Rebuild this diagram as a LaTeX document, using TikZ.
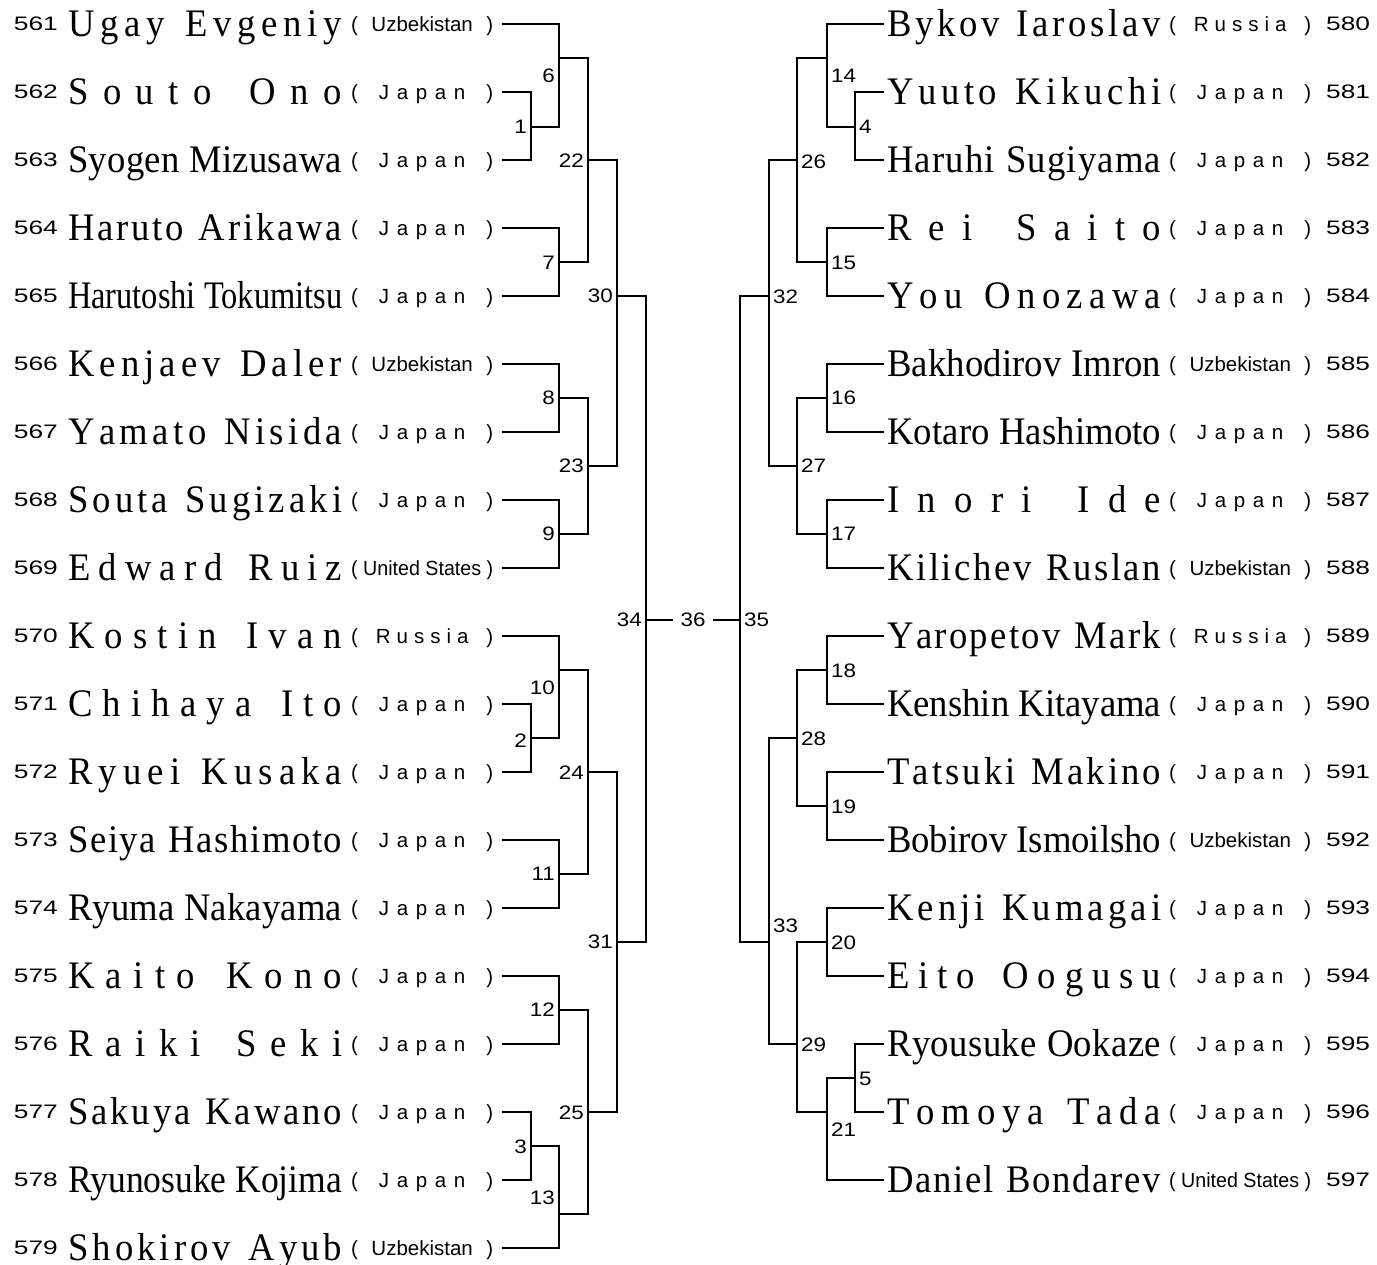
\documentclass[tikz,border=0pt]{standalone}
\usepackage{fontspec}
\usepackage{tikz}
\newfontfamily\namefamily[FakeStretch=0.94]{Liberation Serif}
\newfontfamily\ctyfamily{Liberation Sans}
\newfontfamily\seedfamily[FakeStretch=1.35]{Liberation Sans}
\newfontfamily\lblfamily[FakeStretch=1.15]{Liberation Sans}

% text spread over / squeezed into a box of fixed width
\ExplSyntaxOn
\str_new:N \l__fit_str
\box_new:N \l__fit_box
\bool_new:N \l__fit_first_bool
\int_new:N \l__fit_int
\cs_new_protected:Npn \__fit_make:nnn #1#2#3
 {
  \str_set:Nx \l__fit_str {#3}
  \hbox_set:Nn \l__fit_box { \str_use:N \l__fit_str }
  \int_set:Nn \l__fit_int { \str_count:N \l__fit_str - 1 }
  \dim_compare:nNnTF { \box_wd:N \l__fit_box + #2 * \l__fit_int } > {#1}
   {
    \dim_compare:nNnTF { \box_wd:N \l__fit_box } > {#1}
     {
      \box_resize_to_wd_and_ht:Nnn \l__fit_box {#1} { \box_ht:N \l__fit_box }
      \box_use:N \l__fit_box
     }
     {
      \hbox_to_wd:nn {#1}
       {
        \skip_set:Nn \spaceskip { 0pt plus 1fill }
        \str_use:N \l__fit_str
       }
     }
   }
   {
    \hbox_to_wd:nn {#1}
     {
      \bool_set_true:N \l__fit_first_bool
      \str_map_inline:Nn \l__fit_str
       {
        \bool_if:NTF \l__fit_first_bool
         { \bool_set_false:N \l__fit_first_bool }
         { \hfill }
        ##1
       }
     }
   }
 }
\NewDocumentCommand \fitname { m } { \__fit_make:nnn { 274pt } { 0pt } {#1} }
\NewDocumentCommand \fitcty { m } { \__fit_make:nnn { 142pt } { 4pt } { ( ~ #1 ~ ) } }
\ExplSyntaxOff

\tikzset{
  bracket line/.style={line width=1.8pt, black},
  seed no/.style={inner sep=0pt, font=\seedfamily\fontsize{19.5}{19.5}\selectfont},
  player/.style={inner sep=0pt, anchor=base west, font=\namefamily\fontsize{39}{39}\selectfont},
  country/.style={inner sep=0pt, anchor=base west, font=\ctyfamily\fontsize{20.5}{20.5}\selectfont},
  match no/.style={inner sep=0pt, font=\lblfamily\fontsize{19.5}{19.5}\selectfont}
}

\begin{document}
\begin{tikzpicture}[x=1pt, y=-1pt]
  \useasboundingbox (0,0) rectangle (1377,1265);

  % Left half
  \foreach \n/\nm/\ct [count=\i from 0] in {
      561/Ugay Evgeniy/Uzbekistan, 562/Souto Ono/Japan, 563/Syogen Mizusawa/Japan,
      564/Haruto Arikawa/Japan, 565/Harutoshi Tokumitsu/Japan, 566/Kenjaev Daler/Uzbekistan,
      567/Yamato Nisida/Japan, 568/Souta Sugizaki/Japan, 569/Edward Ruiz/United States,
      570/Kostin Ivan/Russia, 571/Chihaya Ito/Japan, 572/Ryuei Kusaka/Japan,
      573/Seiya Hashimoto/Japan, 574/Ryuma Nakayama/Japan, 575/Kaito Kono/Japan,
      576/Raiki Seki/Japan, 577/Sakuya Kawano/Japan, 578/Ryunosuke Kojima/Japan,
      579/Shokirov Ayub/Uzbekistan} {
    \pgfmathsetmacro\yy{24+68*\i}
    \node[seed no, anchor=east] (s\n) at (58,\yy) {\n};
    \node[player] (p\n) at (68,\yy+12.5) {\fitname{\nm}};
    \node[country] (c\n) at (351,\yy+7.5) {\fitcty{\ct}};
    \coordinate (e\n) at (502,\yy);
  }

  % Right half
  \foreach \n/\nm/\ct [count=\i from 0] in {
      580/Bykov Iaroslav/Russia, 581/Yuuto Kikuchi/Japan, 582/Haruhi Sugiyama/Japan,
      583/Rei Saito/Japan, 584/You Onozawa/Japan, 585/Bakhodirov Imron/Uzbekistan,
      586/Kotaro Hashimoto/Japan, 587/Inori Ide/Japan, 588/Kilichev Ruslan/Uzbekistan,
      589/Yaropetov Mark/Russia, 590/Kenshin Kitayama/Japan, 591/Tatsuki Makino/Japan,
      592/Bobirov Ismoilsho/Uzbekistan, 593/Kenji Kumagai/Japan, 594/Eito Oogusu/Japan,
      595/Ryousuke Ookaze/Japan, 596/Tomoya Tada/Japan, 597/Daniel Bondarev/United States} {
    \pgfmathsetmacro\yy{24+68*\i}
    \node[player] (p\n) at (887,\yy+12.5) {\fitname{\nm}};
    \node[country] (c\n) at (1169,\yy+7.5) {\fitcty{\ct}};
    \node[seed no, anchor=west] (s\n) at (1326,\yy) {\n};
    \coordinate (e\n) at (884,\yy);
  }

  % Match points
  \foreach \m/\xx/\yy in {1/531/127, 2/531/738, 3/531/1146,
      6/559/58, 7/559/262, 8/559/398, 9/559/534, 10/559/670, 11/559/874, 12/559/1010, 13/559/1214,
      22/588/160, 23/588/466, 24/588/772, 25/588/1112, 30/617/296, 31/617/942, 34/646/620,
      4/855/127, 5/855/1078,
      14/827/58, 15/827/262, 16/827/398, 17/827/534, 18/827/670, 19/827/806, 20/827/942, 21/827/1112,
      26/797/160, 27/797/466, 28/797/738, 29/797/1044, 32/769/296, 33/769/942, 35/740/620}
    \coordinate (m\m) at (\xx,\yy);

  % Match numbers
  \foreach \m/\xx/\yy in {1/527/127, 2/527/741, 3/527/1147,
      6/555/76, 7/555/263, 8/555/398, 9/555/534, 10/555/688, 11/555/874, 12/555/1010, 13/555/1198,
      22/584/161, 23/584/466, 24/584/773, 25/584/1113, 30/613/296, 31/613/942, 34/642/620}
    \node[match no, anchor=east] (t\m) at (\xx,\yy) {\m};
  \foreach \m/\xx/\yy in {4/859/127, 5/859/1079,
      14/831/76, 15/831/263, 16/831/398, 17/831/534, 18/831/671, 19/831/807, 20/831/943, 21/831/1130,
      26/801/162, 27/801/466, 28/801/739, 29/801/1045, 32/773/297, 33/773/926, 35/744/620}
    \node[match no, anchor=west] (t\m) at (\xx,\yy) {\m};

  % Bracket lines
  \foreach \a/\b in {e561/m6, e562/m1, e563/m1, m1/m6, e564/m7, e565/m7, m6/m22, m7/m22,
      e566/m8, e567/m8, e568/m9, e569/m9, m8/m23, m9/m23, m22/m30, m23/m30,
      e570/m10, e571/m2, e572/m2, m2/m10, e573/m11, e574/m11, m10/m24, m11/m24,
      e575/m12, e576/m12, e577/m3, e578/m3, m3/m13, e579/m13, m12/m25, m13/m25,
      m24/m31, m25/m31, m30/m34, m31/m34,
      e580/m14, e581/m4, e582/m4, m4/m14, e583/m15, e584/m15, m14/m26, m15/m26,
      e585/m16, e586/m16, e587/m17, e588/m17, m16/m27, m17/m27, m26/m32, m27/m32,
      e589/m18, e590/m18, e591/m19, e592/m19, m18/m28, m19/m28,
      e593/m20, e594/m20, e595/m5, e596/m5, m5/m21, e597/m21, m20/m29, m21/m29,
      m28/m33, m29/m33, m32/m35, m33/m35}
    \draw[bracket line] (\a) -| (\b);

  % Final
  \node[match no, inner xsep=7.5pt] (t36) at (693,620) {36};
  \draw[bracket line] (m34) -- (t36) -- (m35);
\end{tikzpicture}
\end{document}
